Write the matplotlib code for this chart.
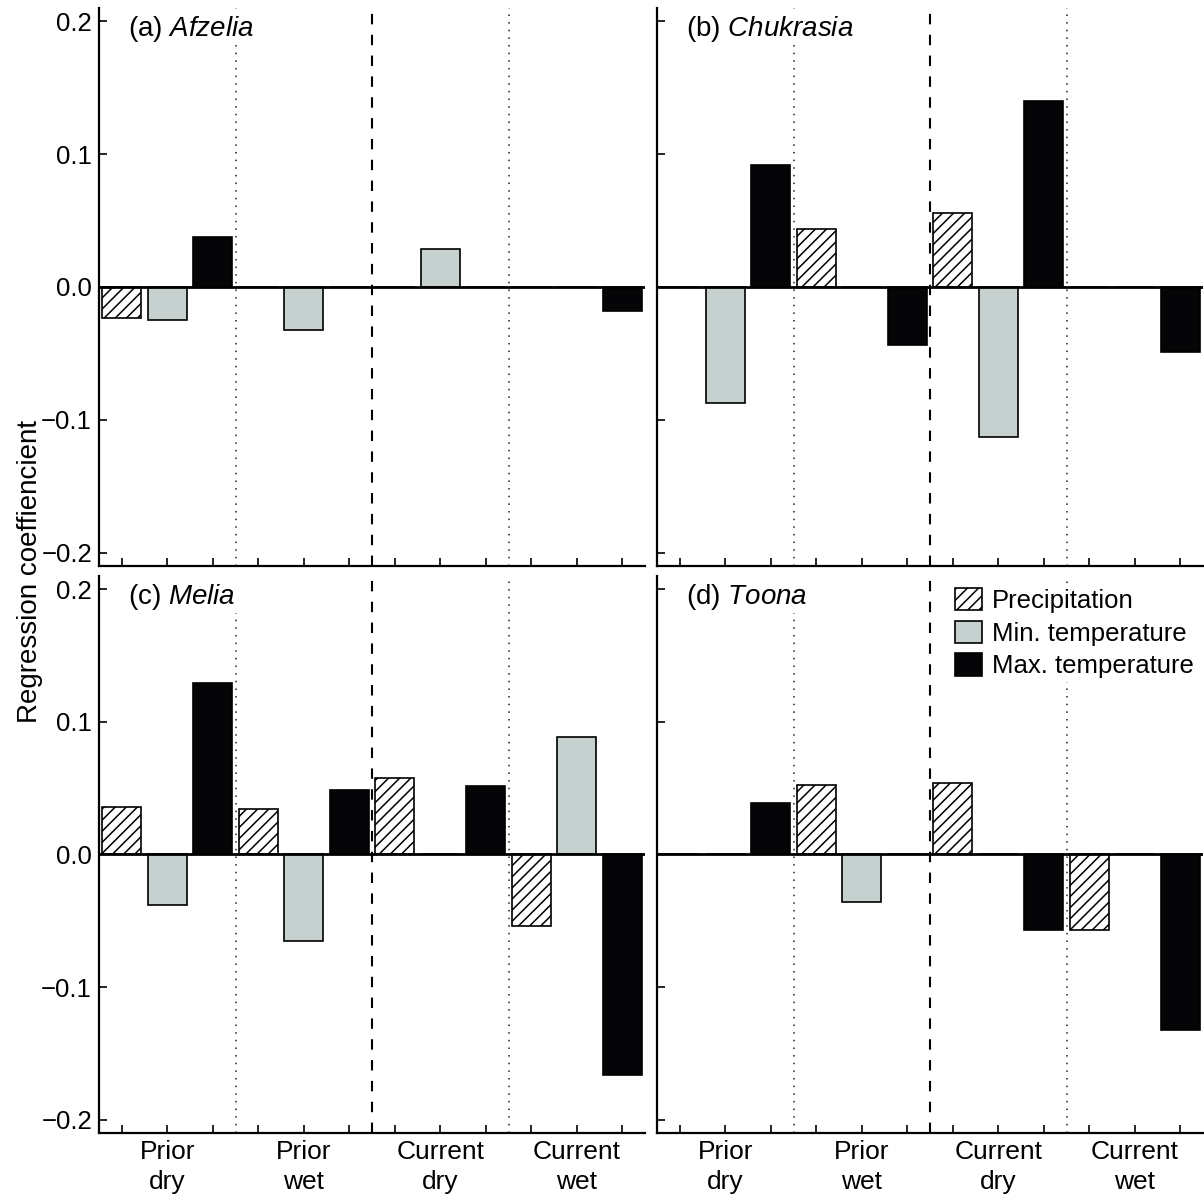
import numpy as np
import matplotlib
matplotlib.use("Agg")
import matplotlib.pyplot as plt

plt.rcParams['font.family'] = ['Liberation Sans', 'DejaVu Sans']
plt.rcParams['mathtext.fontset'] = 'custom'
plt.rcParams['mathtext.it'] = 'Liberation Sans:italic'
plt.rcParams['mathtext.rm'] = 'Liberation Sans'
plt.rcParams['hatch.linewidth'] = 1.1

# data
seasons = ["Prior\ndry", "Prior\nwet", "Current\ndry", "Current\nwet"]
variables = ["Precipitation", "Min. temperature", "Max. temperature"]
panels = ["(a)", "(b)", "(c)", "(d)"]
genera = ["Afzelia", "Chukrasia", "Melia", "Toona"]

# per panel: values for each season, order = precip, min T, max T
afzelia_precip = [-0.023, 0.0, 0.0, 0.0]
afzelia_tmin = [-0.025, -0.032, 0.0285, 0.0]
afzelia_tmax = [0.038, 0.0, 0.0, -0.018]

chukrasia_precip = [0.0, 0.044, 0.056, 0.0]
chukrasia_tmin = [-0.087, 0.0, -0.113, 0.0]
chukrasia_tmax = [0.0915, -0.044, 0.140, -0.049]

melia_precip = [0.036, 0.034, 0.058, -0.054]
melia_tmin = [-0.038, -0.065, 0.0, 0.0885]
melia_tmax = [0.129, 0.049, 0.052, -0.166]

toona_precip = [0.0, 0.0525, 0.054, -0.057]
toona_tmin = [0.0, -0.036, 0.0, 0.0]
toona_tmax = [0.039, 0.0, -0.057, -0.132]

data = [
    (afzelia_precip, afzelia_tmin, afzelia_tmax),
    (chukrasia_precip, chukrasia_tmin, chukrasia_tmax),
    (melia_precip, melia_tmin, melia_tmax),
    (toona_precip, toona_tmin, toona_tmax),
]

styles = [
    dict(facecolor='white', hatch='///'),
    dict(facecolor='#c5d0cf'),
    dict(facecolor='#050508'),
]

fig = plt.figure(figsize=(12.04, 12.01), dpi=100)
W, H = 1204.0, 1201.0
ax_w = 546 / W
positions = [
    [99 / W, 1 - 566 / H, ax_w, 558 / H],
    [657 / W, 1 - 566 / H, ax_w, 558 / H],
    [99 / W, 1 - 1133 / H, ax_w, 557 / H],
    [657 / W, 1 - 1133 / H, ax_w, 557 / H],
]

nvar = len(variables)
bar_w = 0.85

for i, pos in enumerate(positions):
    ax = fig.add_axes(pos)
    for k in range(nvar):
        vals = data[i][k]
        x = np.arange(len(seasons)) * nvar + k
        ax.bar(x, vals, width=bar_w, edgecolor='black', linewidth=1.2,
               label=variables[k], zorder=2, **styles[k])

    ax.axhline(0, color='black', linewidth=2, zorder=3)
    # separators between seasons
    ax.axvline(2.5, color='#222222', linestyle=(0, (1, 4)), linewidth=1.1, zorder=1)
    ax.axvline(8.5, color='#222222', linestyle=(0, (1, 4)), linewidth=1.1, zorder=1)
    ax.axvline(5.5, color='black', linestyle=(0, (5, 5)), linewidth=1.5, zorder=1)

    ax.set_xlim(-0.5, len(seasons) * nvar - 0.5)
    ax.set_ylim(-0.21, 0.21)
    ax.set_yticks([-0.2, -0.1, 0.0, 0.1, 0.2])

    centers = np.arange(len(seasons)) * nvar + 1
    ax.set_xticks(centers)
    others = [j for j in range(len(seasons) * nvar) if j not in centers]
    ax.set_xticks(others, minor=True)

    for s in ['top', 'right']:
        ax.spines[s].set_visible(False)
    for s in ['left', 'bottom']:
        ax.spines[s].set_linewidth(1.6)

    ax.tick_params(axis='both', which='both', direction='in', length=6,
                   width=1.2, labelsize=18.5, pad=5)

    if i >= 2:
        ax.set_xticklabels(seasons, fontsize=19, linespacing=1.3)
    else:
        ax.set_xticklabels([])
    if i % 2 == 0:
        ax.set_yticklabels(['\u22120.2', '\u22120.1', '0.0', '0.1', '0.2'])
    else:
        ax.set_yticklabels([])

    ax.text(0.053, 0.963, panels[i] + ' $\\it{' + genera[i] + '}$',
            transform=ax.transAxes, fontsize=20, va='center', ha='left',
            zorder=5,
            bbox=dict(facecolor='white', edgecolor='none', pad=1))

    if i == 3:
        leg = ax.legend(loc='upper right', bbox_to_anchor=(0.99, 0.985),
                        fontsize=18.5, frameon=True, framealpha=1,
                        facecolor='white', edgecolor='none', borderpad=0.15,
                        borderaxespad=0, handlelength=1.05, handleheight=0.95,
                        handletextpad=0.4, labelspacing=0.3)
        leg.set_zorder(6)

fig.text(30 / W, 0.5245, 'Regression coeffiencient', rotation=90,
         fontsize=20, va='center', ha='center')

fig.savefig('out.png', dpi=100)
